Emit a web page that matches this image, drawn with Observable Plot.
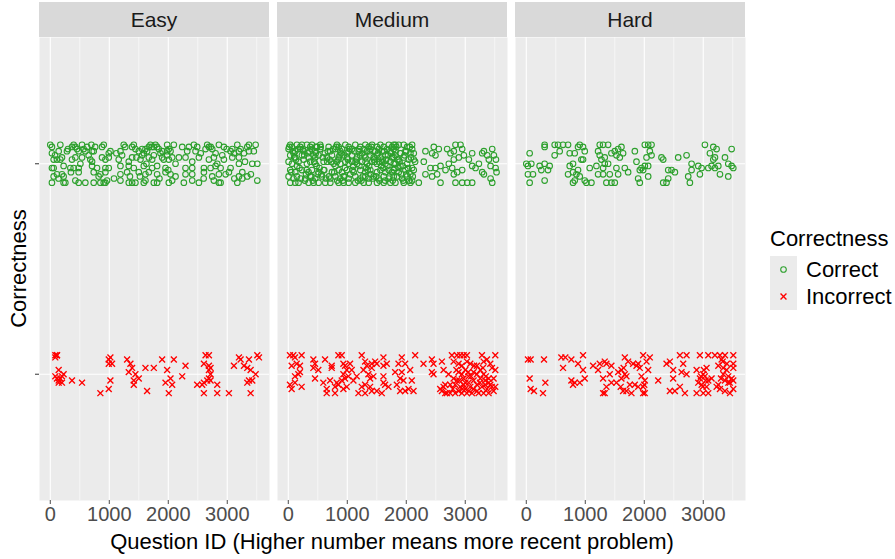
<!DOCTYPE html>
<html>
<head>
<meta charset="utf-8">
<script src="https://cdn.jsdelivr.net/npm/d3@7"></script>
<script src="https://cdn.jsdelivr.net/npm/@observablehq/plot@0.6"></script>
<style>
  html, body { margin: 0; padding: 0; background: #ffffff; }
  #chart { width: 895px; height: 559px; }
</style>
</head>
<body>
<div id="chart"></div>
<script>
// ---------- data ----------
const difficulties = ["Easy", "Medium", "Hard"];
const correctnessLevels = ["Correct", "Incorrect"];
const levelValue = { Correct: 2, Incorrect: 1 }; // discrete level order (Correct on top)
const xTicks = [0, 1000, 2000, 3000];
const xMinorTicks = [500, 1500, 2500, 3500];
const xTitle = "Question ID (Higher number means more recent problem)";
const yTitle = "Correctness";

// [question id, vertical jitter in hundredths of a level]
const easyCorrect = [
  [0,9],[28,8],[170,9],[368,8],[396,9],[425,8],[538,9],[623,8],[696,9],[877,8],[906,9],[1245,9],[1387,8],[1415,9],[1670,8],[1698,9],[1755,8],[1783,9],[1811,8],[1981,9],[2094,9],[2236,8],[2434,9],[2490,8],[2660,9],[2689,8],[2858,9],[2943,8],[3170,9],[3339,8],[3368,9],[3481,9],
  [28,5],[142,6],[283,6],[453,7],[481,6],[566,7],[594,6],[708,6],[736,6],[991,5],[1019,6],[1189,6],[1443,7],[1500,6],[1557,7],[1585,5],[1613,7],[1641,6],[1840,7],[1868,5],[1981,6],[2009,7],[2038,6],[2321,6],[2462,6],[2632,7],[2745,7],[2802,5],[3056,6],[3085,7],[3113,5],[3198,6],[3226,7],[3283,5],[3368,6],
  [57,2],[113,2],[170,2],[198,3],[368,2],[425,3],[538,3],[679,2],[708,1],[877,3],[934,2],[991,3],[1160,2],[1217,4],[1330,1],[1387,3],[1528,2],[1557,4],[1670,3],[1726,2],[1755,4],[1896,3],[1924,2],[1981,4],[2009,2],[2066,3],[2292,3],[2406,1],[2519,3],[2689,2],[2773,3],[2915,4],[2943,2],[3085,3],[3198,3],[3424,0],[3509,0],
  [28,-2],[57,-2],[226,-1],[340,-2],[396,-2],[481,-2],[708,-1],[792,-2],[934,-2],[991,-2],[1189,-1],[1330,-1],[1415,-2],[1585,-1],[1726,-2],[1811,-1],[1953,-2],[2123,0],[2292,-2],[2406,-2],[2604,-2],[2717,-2],[2802,-1],[2887,-2],[3056,-2],[3198,0],
  [57,-6],[113,-5],[198,-5],[226,-6],[481,-4],[736,-4],[849,-5],[934,-4],[1189,-5],[1302,-4],[1500,-4],[1613,-5],[1670,-4],[1811,-5],[1953,-4],[2038,-5],[2123,-6],[2292,-5],[2406,-5],[2604,-4],[2745,-6],[2858,-5],[2972,-5],[3028,-4],[3198,-6],[3255,-4],[3339,-6],
  [28,-9],[226,-9],[255,-9],[425,-8],[481,-9],[594,-9],[736,-9],[849,-9],[906,-9],[934,-9],[962,-8],[1189,-8],[1330,-9],[1387,-9],[1443,-9],[1585,-9],[1613,-8],[1755,-9],[1811,-9],[2009,-9],[2066,-8],[2264,-9],[2406,-8],[2519,-9],[2773,-8],[2858,-9],[2887,-9],[3170,-9],[3255,-7],[3509,-8],
  [80,4],[140,-7],[300,7],[350,-4],[510,0],[650,4],[760,8],[820,-6],[1080,-7],[1120,5],[1270,8],[1350,-6],[1460,3],[1630,0],[1720,8],[1850,-7],[1900,6],[2000,-3],[2180,3],[2350,8],[2550,5],[2600,-7],[2720,8],[2830,0],[2990,7],[3120,-7],[3300,1],[3450,6],[3400,-5],[1520,-6]
];

const mediumCorrect = [
  [33,9],[61,8],[146,9],[203,8],[231,9],[316,9],[372,8],[401,9],[486,8],[542,9],[684,8],[825,9],[854,8],[967,9],[1023,8],[1136,9],[1221,8],[1306,9],[1363,8],[1420,9],[1504,8],[1561,9],[1618,8],[1703,9],[1759,8],[1816,9],
  [5,7],[118,6],[203,7],[259,6],[401,7],[457,6],[542,7],[712,6],[797,7],[882,6],[910,7],[1023,6],[1080,7],[1193,6],[1278,7],[1335,6],[1391,7],[1476,6],[1533,7],[1589,6],[1674,7],[1731,6],[1787,7],
  [33,4],[118,3],[231,4],[344,3],[429,4],[457,3],[514,4],[655,3],[740,4],[854,3],[938,4],[995,3],[1080,4],[1165,3],[1221,4],[1306,3],[1391,4],[1448,3],[1504,4],[1561,3],[1646,4],[1759,3],[1816,4],
  [5,1],[61,0],[174,1],[316,0],[372,1],[457,0],[599,1],[769,0],[825,1],[882,0],[967,1],[1023,0],[1080,1],[1165,0],[1250,1],[1335,0],[1420,1],[1504,0],[1589,1],[1646,0],[1731,1],[1787,0],
  [33,-3],[118,-4],[231,-3],[344,-4],[401,-3],[514,-4],[599,-3],[740,-4],[854,-3],[910,-4],[995,-3],[1108,-4],[1221,-3],[1306,-4],[1391,-3],[1504,-4],[1561,-3],[1646,-4],[1703,-3],[1759,-4],
  [5,-6],[89,-7],[146,-6],[288,-7],[372,-6],[457,-7],[571,-6],[712,-7],[797,-6],[882,-7],[938,-6],[1023,-7],[1136,-6],[1221,-7],[1306,-6],[1363,-7],[1448,-6],[1533,-7],[1618,-6],[1703,-7],[1787,-6],
  [33,-9],[118,-9],[174,-9],[344,-9],[429,-9],[514,-9],[627,-9],[712,-9],[854,-9],[938,-9],[1023,-9],[1136,-9],[1278,-9],[1363,-9],[1504,-9],[1618,-9],[1731,-9],
  [90,5],[260,2],[480,-1],[620,5],[850,2],[1100,-1],[1250,5],[1450,2],[1680,-1],[1900,5],[150,-1],[700,2],[1000,5],[1320,-2],[1600,2],[1870,-2],[2000,-5],[2080,3],[300,-5],[560,-5],[830,-8],[1180,-8],[1400,-5],[1640,-8],[1950,-8],[2100,7],
  [15,8],[75,6],[130,2],[190,-2],[245,7],[280,-8],[330,5],[390,-6],[440,1],[470,8],[530,-2],[585,3],[640,-7],[670,6],[725,1],[780,-4],[810,8],[870,4],[925,-8],[960,-2],[1010,2],[1050,-5],[1120,6],[1150,2],[1205,-1],[1240,-8],[1290,4],[1345,-3],[1380,6],[1430,-7],[1465,1],[1520,5],[1545,-8],[1575,-1],[1625,6],[1660,2],[1715,-6],[1745,5],[1800,-2],[1830,8],[1885,1],[1915,-5],[1970,4],[2030,-2],[2060,8],[2110,-6],[2150,1],
  [50,-4],[100,3],[160,7],[210,-7],[270,4],[310,-3],[360,6],[415,-8],[465,5],[500,-5],[550,8],[610,-3],[660,1],[690,-6],[760,7],[800,-1],[895,5],[950,-6],[1040,7],[1090,-3],[1140,1],[1200,7],[1265,-6],[1310,1],[1370,-1],[1410,8],[1490,-6],[1540,1],[1610,-2],[1690,4],[1770,-8],[1850,2],[1940,-1],[2000,6],[2050,-8],
  [1787,9],[1872,9],[1957,9],[2014,8],[2099,9],[1816,6],[1901,5],[1985,6],[2070,5],[2127,5],[1787,3],[1872,2],[1957,3],[2042,2],[2127,2],[1816,0],[1901,-1],[2014,0],[2099,-2],[1787,-3],[1872,-4],[1985,-3],[2070,-5],[2127,-3],[1844,-6],[1929,-7],[2014,-6],[2099,-8],[1816,-9],[1957,-9],[2070,-9],[2212,-9],
  [2325,6],[2438,5],[2467,8],[2551,7],[2495,4],[2297,1],[2410,-2],[2495,-2],[2580,-1],[2665,-3],[2325,-5],[2438,-6],[2523,-5],[2580,-9],[2693,7],[2750,5],[2806,6],[2834,9],[2919,9],[2948,7],[2976,4],[2891,3],[2806,2],[2721,0],[2778,-2],[2863,-4],[2948,-3],[2806,-5],[2834,-9],[2948,-9],[3033,-9],[3117,-9],[3061,2],[3117,5],[3117,-1],[3174,-2],[3231,0],[3287,5],[3316,6],[3372,4],[3400,2],[3429,-1],[3287,-4],[3316,-5],[3457,7],[3485,4],[3520,2],[3514,-2],[3429,-7],[3457,-9],[3530,-4]
];

const hardCorrect = [
  [57,5],[0,0],[28,-1],[85,0],[28,-5],[113,-5],[57,-9],[226,-1],[311,0],[396,-1],[368,-3],[255,-3],[311,-8],[311,9],[311,8],[481,9],[538,9],[623,9],[708,9],[566,6],[481,4],[736,5],[821,5],[906,9],[877,8],[962,8],[991,6],[934,2],[962,2],[792,0],[736,-1],[708,-5],[792,-4],[877,-3],[849,-5],[906,-6],[991,-8],[1075,-2],[821,-8],[792,-9],[1019,-9],[1104,-9],
  [1189,-1],[1245,9],[1302,9],[1387,9],[1217,6],[1245,4],[1330,3],[1443,5],[1500,6],[1557,7],[1613,8],[1528,4],[1585,3],[1641,5],[1387,0],[1330,0],[1274,2],[1302,-2],[1217,-5],[1302,-5],[1415,-5],[1528,-2],[1557,-5],[1500,-9],[1443,-9],[1358,-9],[1670,-2],[1726,-4],
  [1840,6],[1868,1],[1924,-3],[1896,-7],[1924,-9],[2009,9],[2066,9],[2123,9],[2094,6],[2123,4],[2038,3],[2009,-1],[2066,-1],[1953,-2],[2066,-6],[1981,-3],
  [2292,3],[2321,2],[2406,-3],[2462,-3],[2519,-4],[2321,-9],[2377,-9],[2406,-7],[2575,3],[2717,4],[2802,0],[2915,-1],[2972,-2],[2802,-3],[2745,-6],[2773,-9],[2943,-5],
  [3028,9],[3113,5],[3170,8],[3226,7],[3198,3],[3170,2],[3255,-1],[3368,3],[3424,0],[3481,-1],[3509,-2],[3481,7],[3141,-1],[3085,-2],[3283,-5],[3424,-6],[3198,-2]
];

const easyIncorrect = [
  [85,9],[113,9],[85,8],[113,9],[142,2],[85,-1],[113,-2],[142,-3],[170,-2],[198,-1],[226,0],[198,-4],[142,-4],[368,-3],[538,-4],[849,-9],[991,-7],[1019,-3],[991,7],[1019,8],[991,5],[1047,5],
  [1302,7],[1358,5],[1387,3],[1330,1],[1443,0],[1415,-3],[1500,-2],[1415,-5],[1613,3],[1755,3],[1641,-8],[1896,7],[2094,7],[1981,2],[2038,-2],[1953,-4],[2066,-5],[2009,-9],[2292,4],[2236,-1],
  [2490,-5],[2575,-5],[2632,9],[2689,9],[2604,5],[2689,4],[2717,3],[2689,2],[2717,0],[2689,-2],[2660,-3],[2604,-4],[2717,-3],[2604,-9],[2830,-5],[2830,-9],[3028,-9],
  [3113,4],[3198,8],[3226,7],[3368,7],[3283,4],[3339,3],[3396,2],[3481,0],[3509,9],[3538,8],[3368,-3],[3424,-3],[3339,-4],[3396,-9]
];

const mediumIncorrect = [
  [28,9],[85,9],[113,8],[57,4],[142,5],[226,9],[198,4],[113,-1],[170,0],[198,1],[28,-5],[57,-7],[113,-4],[226,-6],
  [425,7],[453,5],[425,3],[509,2],[453,-2],[623,7],[736,4],[736,3],[594,-4],[651,-7],[651,-9],[708,-3],[792,-9],
  [849,9],[906,9],[934,5],[962,4],[991,2],[934,0],[1019,-1],[962,-2],[1047,5],[1075,2],[821,-4],[849,-5],[906,-3],[934,-7],[991,-6],[792,-6],[1104,-3],[1160,-1],
  [1245,9],[1302,6],[1330,4],[1415,5],[1472,6],[1500,5],[1415,3],[1358,0],[1274,2],[1443,-1],[1387,-2],[1245,-6],[1302,-5],[1189,-9],[1302,-9],[1387,-6],[1415,-8],[1500,-8],[1585,-9],
  [1613,8],[1613,4],[1670,5],[1613,-1],[1613,-4],[1641,-5],[1698,-6],[1811,1],[1868,5],[1924,8],[1981,5],[1924,1],[1896,-2],[1953,-3],[1840,-5],[1896,-8],[1981,-8],[2038,-7],[2094,-3],[2123,-8],[2066,2],[2151,9],
  [2292,5],[2434,7],[2462,5],[2434,1],[2462,0],[2604,6],[2632,2],[2604,-8],[2632,-6],[2660,-5],[2689,-9],[2717,0],
  [2773,9],[2858,9],[2915,9],[2972,9],[3028,9],[2802,6],[2887,5],[2943,4],[3028,6],[3085,5],[3198,4],[3255,2],[3283,9],[3311,6],[3368,7],[3424,5],[3509,9],[3453,3],[3509,2],
  [2887,1],[2943,0],[3000,2],[3056,-1],[3141,1],[3198,0],[3311,0],[3396,-2],[3481,-2],[2802,-2],[2858,-3],[2972,-2],[3056,-4],[3141,-3],[3255,-2],[3339,-3],[3424,-5],[3509,-6],
  [2745,-5],[2830,-5],[2915,-6],[3000,-7],[3085,-6],[3198,-5],[3283,-6],[3368,-7],[2575,-7],[2660,-9],[2745,-9],[2830,-9],[2943,-9],[3028,-9],[3113,-9],[3226,-9],[3311,-9],[3396,-9],[3481,-8],
  [2972,-5],[3141,-7],[3339,-5],[2887,-8],[2900,-3],[3000,-4],[3100,-1],[3250,-4],[3350,-1],[3150,4],[2850,2],[3050,1],[3400,-4],[3300,3],[2950,-7],[3200,-8],[3450,-6],[2790,-7],[3060,-8]
];

const hardIncorrect = [
  [28,7],[74,7],[300,7],[57,-2],[323,-4],[74,-7],[130,-8],[283,-9],
  [594,8],[662,8],[764,7],[877,5],[962,9],[962,2],[623,3],[764,-3],[821,-4],[906,-4],[991,-2],[792,-5],
  [1132,4],[1245,5],[1330,6],[1358,5],[1443,4],[1217,2],[1415,0],[1302,-2],[1443,-4],[1358,-6],[1330,-9],[1302,-9],[1528,-4],[1557,1],[1613,2],
  [1670,8],[1726,6],[1811,5],[1670,0],[1613,-2],[1698,-1],[1755,-5],[1641,-8],[1698,-8],[1783,-9],[1840,-5],[1868,4],[1896,5],[1924,3],[1981,9],[2038,6],[2094,8],[2066,2],[1953,-1],[2009,-3],[1981,-6],[1981,-9],[2009,-9],[1896,-6],
  [2236,-3],[2377,5],[2434,6],[2490,2],[2604,9],[2717,9],[2660,5],[2632,1],[2717,0],[2490,-2],[2434,-8],[2519,-8],[2604,-6],[2689,-9],
  [2887,2],[2943,9],[3085,9],[3056,3],[3000,0],[2943,-2],[3028,-1],[3085,-3],[2915,-4],[2972,-5],[2887,-9],[3000,-9],[3085,-9],[3056,-6],
  [3198,9],[3283,9],[3368,9],[3509,9],[3255,4],[3339,3],[3396,2],[3509,5],[3509,3],[3311,7],[3226,-6],[3283,-7],[3368,-8],[3453,-9],[3509,-7],[3424,-1],[3481,-2],[3509,-3],[3368,-3],[3424,-4],[3255,-5],[3339,0],[3141,-2],
  [2960,-1],[3010,2],[3040,-3],[2990,-6],[3330,6],[3400,5],[3450,-4],[3300,-2],[1600,-6],[1650,3],[2000,-5]
];

// ---------- styling ----------
const colors = { Correct: "#2ca02c", Incorrect: "#ff0000" };
const font = "'Liberation Sans', Arial, Helvetica, sans-serif";
const circleR = 2.8, crossR = 2.8;
const circleSW = 1.1, crossSW = 1.35;

function toRows(difficulty, correctness, pairs) {
  return pairs.map(([id, j]) => ({
    difficulty, correctness, id,
    y: levelValue[correctness] + j / 100
  }));
}
const correctRows = [
  ...toRows("Easy", "Correct", easyCorrect),
  ...toRows("Medium", "Correct", mediumCorrect),
  ...toRows("Hard", "Correct", hardCorrect)
];
const incorrectRows = [
  ...toRows("Easy", "Incorrect", easyIncorrect),
  ...toRows("Medium", "Incorrect", mediumIncorrect),
  ...toRows("Hard", "Incorrect", hardIncorrect)
];

const W = 895, H = 559;
const mL = 38, mR = 150, mT = 37, mB = 59;

const plot = Plot.plot({
  width: W, height: H,
  marginLeft: mL, marginRight: mR, marginTop: mT, marginBottom: mB,
  style: { fontFamily: font, background: "#ffffff", color: "#000" },
  fx: { domain: difficulties, paddingInner: 0.034, paddingOuter: 0, axis: null, label: null },
  x: { domain: [-183, 3716], label: null },
  y: { domain: [0.4, 2.6], label: null },
  marks: [
    Plot.frame({ fill: "#ebebeb", stroke: "none" }),
    Plot.gridX({ ticks: xMinorTicks, stroke: "#ffffff", strokeOpacity: 1, strokeWidth: 0.55 }),
    Plot.gridX({ ticks: xTicks, stroke: "#ffffff", strokeOpacity: 1, strokeWidth: 1.1 }),
    Plot.gridY({ ticks: [levelValue.Incorrect, levelValue.Correct], stroke: "#ffffff", strokeOpacity: 1, strokeWidth: 1.1 }),
    Plot.dot(correctRows, { fx: "difficulty", x: "id", y: "y", r: circleR, stroke: colors.Correct, strokeWidth: circleSW, fill: "none" }),
    Plot.dot(incorrectRows, { fx: "difficulty", x: "id", y: "y", r: crossR, symbol: "times", stroke: colors.Incorrect, strokeWidth: crossSW }),
    Plot.axisX({ ticks: xTicks, tickFormat: d => String(d), tickSize: 4, tickPadding: 2, fontSize: 20, color: "#4d4d4d", label: null }),
    Plot.axisY({ ticks: [levelValue.Incorrect, levelValue.Correct], tickSize: 4, tickFormat: () => "", color: "#333333", label: null })
  ]
});

document.getElementById("chart").appendChild(plot);

// ---------- strips, titles, legend ----------
const svg = d3.select(plot);
const fxScale = plot.scale("fx");
const bw = fxScale.bandwidth;
const stripH = 35;

const strips = svg.append("g").attr("class", "strips");
difficulties.forEach(d => {
  const x0 = fxScale.apply(d);
  strips.append("rect")
    .attr("x", x0).attr("y", mT - stripH)
    .attr("width", bw).attr("height", stripH)
    .attr("fill", "#d9d9d9");
  strips.append("text")
    .attr("x", x0 + bw / 2).attr("y", mT - stripH / 2)
    .attr("dy", "0.35em")
    .attr("text-anchor", "middle")
    .attr("font-family", font).attr("font-size", 21)
    .attr("fill", "#1a1a1a")
    .text(d);
});

const panelsLeft = fxScale.apply(difficulties[0]);
const panelsRight = fxScale.apply(difficulties[difficulties.length - 1]) + bw;

svg.append("text")
  .attr("x", (panelsLeft + panelsRight) / 2).attr("y", H - 18)
  .attr("dy", "0.35em")
  .attr("text-anchor", "middle")
  .attr("font-family", font).attr("font-size", 22).attr("fill", "#000")
  .text(xTitle);

svg.append("text")
  .attr("transform", `translate(18,${(mT + (H - mB)) / 2}) rotate(-90)`)
  .attr("dy", "0.35em")
  .attr("text-anchor", "middle")
  .attr("font-family", font).attr("font-size", 22).attr("fill", "#000")
  .text(yTitle);

// legend
const lg = svg.append("g").attr("transform", `translate(770,0)`);
lg.append("text")
  .attr("x", 0).attr("y", 238).attr("dy", "0.35em")
  .attr("text-anchor", "start")
  .attr("font-family", font).attr("font-size", 22).attr("fill", "#000")
  .text("Correctness");
const keySize = 27, keyTop = 256;
correctnessLevels.forEach((c, i) => {
  const ky = keyTop + i * keySize;
  lg.append("rect").attr("x", 0).attr("y", ky).attr("width", keySize).attr("height", keySize).attr("fill", "#ebebeb");
  if (c === "Correct") {
    lg.append("circle").attr("cx", keySize / 2).attr("cy", ky + keySize / 2).attr("r", circleR)
      .attr("fill", "none").attr("stroke", colors[c]).attr("stroke-width", circleSW);
  } else {
    lg.append("path")
      .attr("transform", `translate(${keySize / 2},${ky + keySize / 2})`)
      .attr("d", d3.symbol(d3.symbolTimes, Math.PI * crossR * crossR)())
      .attr("fill", "none").attr("stroke", colors[c]).attr("stroke-width", crossSW);
  }
  lg.append("text")
    .attr("x", keySize + 9).attr("y", ky + keySize / 2).attr("dy", "0.35em")
    .attr("text-anchor", "start")
    .attr("font-family", font).attr("font-size", 22).attr("fill", "#000")
    .text(c);
});
</script>
</body>
</html>
